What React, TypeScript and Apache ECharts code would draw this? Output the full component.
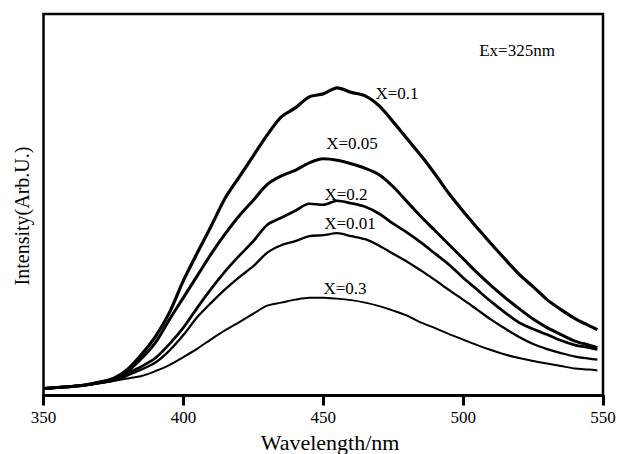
import React, { useEffect, useRef } from "react";
import * as echarts from "echarts";

const wavelength = [
  350, 355, 360, 365, 370, 375, 380, 385, 390, 395, 400, 405, 410, 415, 420, 425, 430, 435, 440, 445,
  450, 455, 460, 465, 470, 475, 480, 485, 490, 495, 500, 505, 510, 515, 520, 525, 530, 535, 540, 545, 548,
];

const x01 = [
  7, 8, 9, 10.5, 13.5, 17, 26, 41, 59, 83, 115, 143, 170, 198, 219, 240, 261, 279, 288, 299,
  302, 308, 303.5, 300, 290, 274, 257, 240, 221.5, 202, 184.5, 168, 152, 136.5, 121.5, 109, 96, 86, 77, 70, 66,
];
const x005 = [
  7, 8, 9, 10.5, 13, 16, 24, 37, 53, 76, 98, 120, 142, 162, 180, 195.5, 211.5, 220, 225.5, 233,
  237, 235.5, 232, 227.5, 221, 209, 194, 179, 165, 151, 137, 123, 110, 98, 87, 76.5, 68, 61, 54.5, 50.5, 48,
];
const x02 = [
  7, 8, 9, 10.5, 12.5, 15.5, 22, 29, 37.5, 51.5, 68, 88, 107, 124.5, 140, 154.5, 171, 178, 185, 192,
  191, 195, 192.5, 189, 182, 172, 163, 153, 142, 131, 118, 106, 94, 83, 73, 66.5, 61, 55, 50.5, 48, 46,
];
const x001 = [
  6.5, 8, 9, 10.5, 12.5, 15, 20, 26, 33, 45, 60.5, 78.5, 93, 106.5, 118.5, 129.5, 143, 150.5, 154.5, 159.5,
  160.5, 162.5, 159.5, 156.5, 150, 142, 134, 125, 115.5, 105.5, 96, 86, 76, 67, 58.5, 51.5, 46.5, 42.5, 39, 37, 36,
];
const x03 = [
  6.5, 8, 9, 10.5, 12.5, 14.5, 17, 19.5, 24.5, 30.5, 38.5, 47, 56.5, 65.5, 73.5, 82, 90, 93, 96, 98,
  98, 97, 95.5, 93, 89.5, 85, 80, 73, 67.5, 61.5, 56, 50.5, 45.5, 41, 37.5, 34.5, 32, 29.5, 27, 26, 25,
];

const seriesNames = ["X=0.1", "X=0.05", "X=0.2", "X=0.01", "X=0.3"];
const seriesValues = [x01, x005, x02, x001, x03];
const lineWidths = [3.2, 3, 2.7, 2.3, 2];
const labelPixels = [
  [397, 93],
  [352, 143],
  [346, 194],
  [350, 223],
  [345, 288],
];

const FONT = '"Liberation Serif", "Times New Roman", serif';

export default function App() {
  const ref = useRef<HTMLDivElement>(null);
  useEffect(() => {
    if (!ref.current) return;
    const chart = echarts.init(ref.current, null, { renderer: "svg" });
    const series = seriesNames.map((name, i) => ({
      name,
      type: "line",
      data: wavelength.map((w, j) => [w, seriesValues[i][j]]),
      showSymbol: false,
      symbol: "none",
      smooth: 0.3,
      lineStyle: { color: "#000", width: lineWidths[i] },
      z: 3,
    }));
    const labelTexts = seriesNames.map((name, i) => ({
      type: "text",
      x: labelPixels[i][0],
      y: labelPixels[i][1],
      style: {
        text: name,
        font: `17px ${FONT}`,
        fill: "#000",
        align: "center",
        verticalAlign: "middle",
      },
      z: 10,
    }));
    chart.setOption({
      animation: false,
      backgroundColor: "#fff",
      grid: {
        left: 43.5,
        right: 16,
        top: 14,
        bottom: 58.5,
        show: true,
        borderColor: "#000",
        borderWidth: 2.5,
        containLabel: false,
      },
      xAxis: {
        type: "value",
        min: 350,
        max: 550,
        interval: 50,
        axisLine: { show: true, onZero: false, lineStyle: { color: "#000", width: 3 } },
        axisTick: { show: true, inside: false, length: 10, lineStyle: { color: "#000", width: 3 } },
        axisLabel: { color: "#000", fontSize: 17, fontFamily: FONT, margin: 13 },
        splitLine: { show: false },
      },
      yAxis: {
        type: "value",
        min: 0,
        max: 382,
        axisLine: { show: false },
        axisTick: { show: false },
        axisLabel: { show: false },
        splitLine: { show: false },
      },
      series,
      graphic: [
        ...labelTexts,
        {
          type: "text",
          x: 517,
          y: 50,
          style: {
            text: "Ex=325nm",
            font: `17px ${FONT}`,
            fill: "#000",
            align: "center",
            verticalAlign: "middle",
          },
        },
        {
          type: "text",
          x: 330,
          y: 442,
          style: {
            text: "Wavelength/nm",
            font: `22px ${FONT}`,
            fill: "#000",
            align: "center",
            verticalAlign: "middle",
          },
        },
        {
          type: "text",
          x: 22,
          y: 216,
          rotation: Math.PI / 2,
          style: {
            text: "Intensity(Arb.U.)",
            font: `20px ${FONT}`,
            fill: "#000",
            align: "center",
            verticalAlign: "middle",
          },
        },
      ],
    });
    return () => chart.dispose();
  }, []);
  return (
    <div
      ref={ref}
      style={{ position: "fixed", left: 0, top: 0, width: 619, height: 454, background: "#fff" }}
    />
  );
}
